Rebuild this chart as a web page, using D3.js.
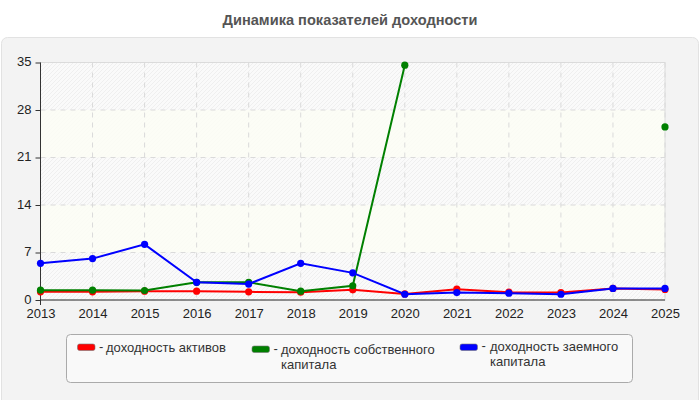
<!DOCTYPE html>
<html><head><meta charset="utf-8">
<script src="https://cdn.jsdelivr.net/npm/d3@7/dist/d3.min.js"></script>
<style>
html,body{margin:0;padding:0;background:#fff;}
svg{display:block;font-family:"Liberation Sans",Arial,sans-serif;}
</style></head>
<body><svg id="c" width="700" height="400"></svg>
<script>
const title = "Динамика показателей доходности";
const years = ["2013","2014","2015","2016","2017","2018","2019","2020","2021","2022","2023","2024","2025"];
const yTicks = [0,7,14,21,28,35];
const seriesLines1 = ["доходность активов", "доходность собственного", "доходность заемного"];
const seriesLines2 = ["", "капитала", "капитала"];
const seriesColors = ["#ff0000", "#008000", "#0000ff"];
const roa = [1.2, 1.2, 1.3, 1.3, 1.2, 1.15, 1.5, 0.9, 1.6, 1.15, 1.1, 1.7, 1.55];
const roe = [1.45, 1.45, 1.4, 2.6, 2.6, 1.3, 2.1, 34.6, null, null, null, null, 25.5];
const rod = [5.4, 6.1, 8.2, 2.6, 2.35, 5.4, 4.0, 0.85, 1.1, 1.0, 0.85, 1.7, 1.7];
const seriesValues = [roa, roe, rod];

const svg = d3.select("#c");
const L = 40.5, R = 665, T = 62.5, B = 300;

// outer panel
svg.append("rect").attr("x", 1.5).attr("y", 37.5).attr("width", 697).attr("height", 370)
  .attr("rx", 6).attr("fill", "#f3f3f3").attr("stroke", "#e2e2e2");

svg.append("text").attr("x", 350).attr("y", 25).attr("text-anchor", "middle")
  .attr("font-size", 14.6).attr("font-weight", "bold").attr("fill", "#555").text(title);

const x = d3.scalePoint().domain(years).range([L, R]);
const y = d3.scaleLinear().domain([0, 35]).range([B, T]);

// hatch pattern
const defs = svg.append("defs");
const pat = defs.append("pattern").attr("id", "hatch").attr("patternUnits", "userSpaceOnUse")
  .attr("width", 4).attr("height", 4);
pat.append("rect").attr("width", 4).attr("height", 4).attr("fill", "#fafafa");
pat.append("path").attr("d", "M-1,1 l2,-2 M0,4 l4,-4 M3,5 l2,-2").attr("stroke", "#efefef").attr("stroke-width", 1);

svg.append("rect").attr("x", L).attr("y", T).attr("width", R - L).attr("height", B - T)
  .attr("fill", "url(#hatch)");
// alternating bands
for (let i = 0; i < yTicks.length - 1; i++) {
  if (i % 2 === 1) {
    svg.append("rect").attr("x", L).attr("y", y(yTicks[i + 1])).attr("width", R - L)
      .attr("height", y(yTicks[i]) - y(yTicks[i + 1])).attr("fill", "#fcfdf5").attr("opacity", 0.85);
  }
}
// plot border
svg.append("rect").attr("x", L).attr("y", T).attr("width", R - L).attr("height", B - T)
  .attr("fill", "none").attr("stroke", "#dcdcdc");

// grid
const grid = svg.append("g").attr("stroke", "#dadada").attr("stroke-dasharray", "5,5");
years.forEach(v => grid.append("line").attr("x1", x(v)).attr("x2", x(v)).attr("y1", T).attr("y2", B));
yTicks.forEach(v => grid.append("line").attr("x1", L).attr("x2", R).attr("y1", y(v)).attr("y2", y(v)));

// axes
const ax = svg.append("g").attr("transform", `translate(0,${B})`)
  .call(d3.axisBottom(x).tickSize(0).tickPadding(8.5));
const ay = svg.append("g").attr("transform", `translate(${L},0)`)
  .call(d3.axisLeft(y).tickValues(yTicks).tickSize(5).tickPadding(4));
[ax, ay].forEach(a => {
  a.selectAll("text").attr("font-size", 13).attr("fill", "#222").attr("font-family", "'Liberation Sans',Arial,sans-serif");
  a.selectAll("line,path").attr("stroke", "#333");
});
ay.selectAll("text").attr("dy", "0.24em");
ax.select(".domain").remove();
ay.select(".domain").remove();
svg.append("line").attr("x1", L).attr("x2", R).attr("y1", B).attr("y2", B).attr("stroke", "#333");
svg.append("line").attr("x1", L).attr("x2", L).attr("y1", T).attr("y2", B + 5).attr("stroke", "#333");

// series
const line = d3.line().defined(d => d.v !== null).x(d => x(d.year)).y(d => y(d.v));
seriesValues.forEach((vals, i) => {
  const data = years.map((yr, j) => ({year: yr, v: vals[j]}));
  const g = svg.append("g");
  g.append("path").datum(data).attr("d", line).attr("fill", "none")
    .attr("stroke", seriesColors[i]).attr("stroke-width", 2);
  g.selectAll("circle").data(data.filter(d => d.v !== null)).join("circle")
    .attr("cx", d => x(d.year)).attr("cy", d => y(d.v)).attr("r", 3.6).attr("fill", seriesColors[i]);
});

// legend
svg.append("rect").attr("x", 66.5).attr("y", 334.5).attr("width", 566).attr("height", 48)
  .attr("rx", 4).attr("fill", "#f9f9f9").attr("stroke", "#aaa");
const legPos = [{sx: 77.5, sy: 344, tx: 106, base: 351.7}, {sx: 252, sy: 346, tx: 281, base: 354}, {sx: 460, sy: 344, tx: 490, base: 351}];
seriesLines1.forEach((name, i) => {
  const p = legPos[i];
  svg.append("rect").attr("x", p.sx).attr("y", p.sy).attr("width", 17.5).attr("height", 6.5)
    .attr("rx", 2).attr("fill", seriesColors[i]).attr("stroke", "#777").attr("stroke-width", 0.6);
  svg.append("text").attr("x", p.sx + 21.5).attr("y", p.base - 1).attr("font-size", 13).attr("fill", "#333").text("-");
  svg.append("text").attr("x", p.tx).attr("y", p.base).attr("font-size", 13).attr("fill", "#333").text(name);
  if (seriesLines2[i]) {
    svg.append("text").attr("x", p.tx).attr("y", p.base + 14.5).attr("font-size", 13).attr("fill", "#333").text(seriesLines2[i]);
  }
});
</script></body></html>
